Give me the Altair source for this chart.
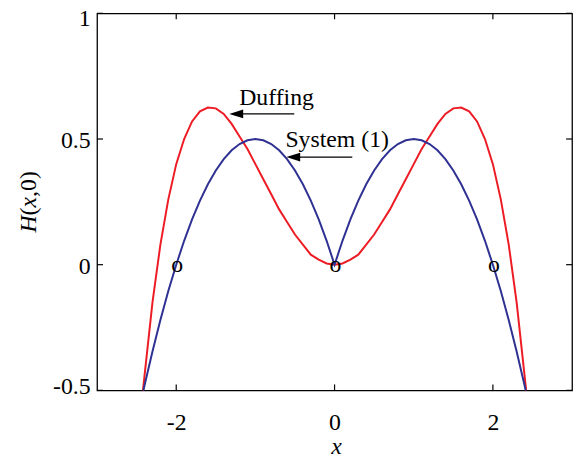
import altair as alt
import pandas as pd

# ---- data ----
duff_x = [-2.42, -2.4, -2.3, -2.2, -2.1, -2.0, -1.9, -1.8, -1.7, -1.6, -1.5, -1.4, -1.3, -1.2, -1.1,
          -1.0, -0.9, -0.8, -0.7, -0.6, -0.5, -0.4, -0.3, -0.2, -0.1, 0.0,
          0.1, 0.2, 0.3, 0.4, 0.5, 0.6, 0.7, 0.8, 0.9, 1.0, 1.1, 1.2, 1.3, 1.4, 1.5, 1.6, 1.7,
          1.8, 1.9, 2.0, 2.1, 2.2, 2.3, 2.4, 2.42]
duff_y = [-0.50, -0.44, -0.15, 0.08, 0.26, 0.40, 0.50, 0.57, 0.61, 0.625, 0.622, 0.60, 0.56, 0.51, 0.46,
          0.40, 0.34, 0.28, 0.22, 0.17, 0.12, 0.08, 0.04, 0.02, 0.005, 0.0,
          0.005, 0.02, 0.04, 0.08, 0.12, 0.17, 0.22, 0.28, 0.34, 0.40, 0.46, 0.51, 0.56, 0.60, 0.622, 0.625, 0.61,
          0.57, 0.50, 0.40, 0.26, 0.08, -0.15, -0.44, -0.50]

sys_x = [-2.414, -2.4, -2.3, -2.2, -2.1, -2.0, -1.9, -1.8, -1.7, -1.6, -1.5, -1.4, -1.3, -1.2, -1.1,
         -1.0, -0.9, -0.8, -0.7, -0.6, -0.5, -0.4, -0.3, -0.2, -0.1, 0.0,
         0.1, 0.2, 0.3, 0.4, 0.5, 0.6, 0.7, 0.8, 0.9, 1.0, 1.1, 1.2, 1.3, 1.4, 1.5, 1.6, 1.7,
         1.8, 1.9, 2.0, 2.1, 2.2, 2.3, 2.4, 2.414]
sys_y = [-0.50, -0.48, -0.345, -0.22, -0.105, 0.0, 0.095, 0.18, 0.255, 0.32, 0.375, 0.42, 0.455, 0.48, 0.495,
         0.50, 0.495, 0.48, 0.455, 0.42, 0.375, 0.32, 0.255, 0.18, 0.095, 0.0,
         0.095, 0.18, 0.255, 0.32, 0.375, 0.42, 0.455, 0.48, 0.495, 0.50, 0.495, 0.48, 0.455, 0.42, 0.375, 0.32, 0.255,
         0.18, 0.095, 0.0, -0.105, -0.22, -0.345, -0.48, -0.50]

x_ticks = [-2, 0, 2]
y_ticks = [-0.5, 0, 0.5, 1]
marker_x = [-2, 0, 2]
marker_y = [0, 0, 0]

note_text = ["Duffing", "System (1)"]
note_x = [-1.205, -0.621]
note_y = [0.636, 0.470]
head_x = [-1.242, -0.522]
tail_x = [-0.509, 0.224]
arrow_y = [0.600, 0.428]

# ---- layout / style ----
W, H = 480, 381
FONT = "Liberation Serif"
FS = 24
MINUS_FIX = "replace(datum.label, '\u2212', '-')"

curves = pd.DataFrame({
    "x": duff_x + sys_x,
    "y": duff_y + sys_y,
    "series": ["Duffing"] * len(duff_x) + ["System"] * len(sys_x),
    "i": list(range(len(duff_x))) + list(range(len(sys_x))),
})

xs = alt.Scale(domain=[-3, 3], nice=False, zero=False)
ys = alt.Scale(domain=[-0.5, 1], nice=False, zero=False)

x_axis = alt.Axis(values=x_ticks, title=None, ticks=False, tickSize=0, grid=False, domain=False,
                  format="~g", labelPadding=40,
                  labelBaseline="alphabetic", labelExpr=MINUS_FIX, labelFlush=False)
y_axis = alt.Axis(values=y_ticks, title=None, ticks=False, tickSize=0, grid=False, domain=False,
                  format="~g", labelPadding=7, labelExpr=MINUS_FIX, labelOverlap=False,
                  labelFlush=False,
                  labelOffset={"condition": [{"test": "datum.value == 1", "value": 5},
                                             {"test": "datum.value == -0.5", "value": -4}],
                               "value": 2})


def X(field):
    return alt.X(field, scale=xs, axis=x_axis)


def Y(field):
    return alt.Y(field, scale=ys, axis=y_axis)


lines = alt.Chart(curves).mark_line(strokeWidth=2).encode(
    x=X("x:Q"),
    y=Y("y:Q"),
    color=alt.Color("series:N", scale=alt.Scale(domain=["Duffing", "System"],
                                                range=["#ed1c24", "#2e3192"]), legend=None),
    order="i:Q",
)

xt = pd.DataFrame({"v": x_ticks})
yt = pd.DataFrame({"v": y_ticks})
tick_style = dict(color="black", strokeWidth=1.2)
xb = alt.Chart(xt).mark_rule(**tick_style).encode(
    x=X("v:Q"), y=alt.value(H), y2=alt.value(H - 6))
xtop = alt.Chart(xt).mark_rule(**tick_style).encode(
    x=X("v:Q"), y=alt.value(0), y2=alt.value(6))
yl = alt.Chart(yt).mark_rule(**tick_style).encode(
    y=Y("v:Q"), x=alt.value(0), x2=alt.value(6))
yr = alt.Chart(yt).mark_rule(**tick_style).encode(
    y=Y("v:Q"), x=alt.value(W), x2=alt.value(W - 6))

mk = pd.DataFrame({"x": marker_x, "y": marker_y})
markers = alt.Chart(mk).mark_text(text="o", font=FONT, fontSize=FS, color="black",
                                  baseline="alphabetic", dy=7, dx=1).encode(
    x=X("x:Q"), y=Y("y:Q"))

notes = pd.DataFrame({"t": note_text, "x": note_x, "y": note_y})
note_marks = alt.Chart(notes).mark_text(font=FONT, fontSize=FS, color="black", align="left",
                                        baseline="alphabetic").encode(
    x=X("x:Q"), y=Y("y:Q"), text="t:N")

arr = pd.DataFrame({"hx": head_x, "tx": tail_x, "y": arrow_y})
shafts = alt.Chart(arr).mark_rule(color="black", strokeWidth=1.3).encode(
    x=X("hx:Q"), x2="tx:Q", y=Y("y:Q"))
heads = alt.Chart(arr).mark_point(shape="M-1,0L1,-0.62L1,0.62Z", filled=True, size=196,
                                  color="black", opacity=1).encode(
    x=X("hx:Q"), y=Y("y:Q"))

# x axis title
xtitle = alt.Chart(pd.DataFrame({"t": ["x"]})).mark_text(
    font=FONT, fontSize=FS, fontStyle="italic", color="black", align="center",
    baseline="alphabetic").encode(x=alt.value(242), y=alt.value(445), text="t:N")

# y axis title "H(x,0)" with italic H and x
yparts = [("H", "italic", 221.5), ("(", "normal", 204.2), ("x", "italic", 196.2), (",0)", "normal", 185.5)]
ytitle_layers = []
for txt, style, py in yparts:
    ytitle_layers.append(
        alt.Chart(pd.DataFrame({"t": [txt]})).mark_text(
            font=FONT, fontSize=FS, fontStyle=style, color="black", align="left",
            baseline="alphabetic", angle=270).encode(
            x=alt.value(-62), y=alt.value(py), text="t:N"))

chart = alt.layer(lines, xb, xtop, yl, yr, markers, note_marks, shafts, heads, xtitle,
                  *ytitle_layers).properties(
    width=W, height=H,
    autosize=alt.AutoSizeParams(type="none"),
    padding={"left": 90, "top": 3, "right": 5, "bottom": 70},
).configure_view(stroke="black", strokeWidth=1.3).configure_axis(
    labelFont=FONT, labelFontSize=FS, labelColor="black")

chart.save("out.html", embed_options={"renderer": "svg", "actions": False})
